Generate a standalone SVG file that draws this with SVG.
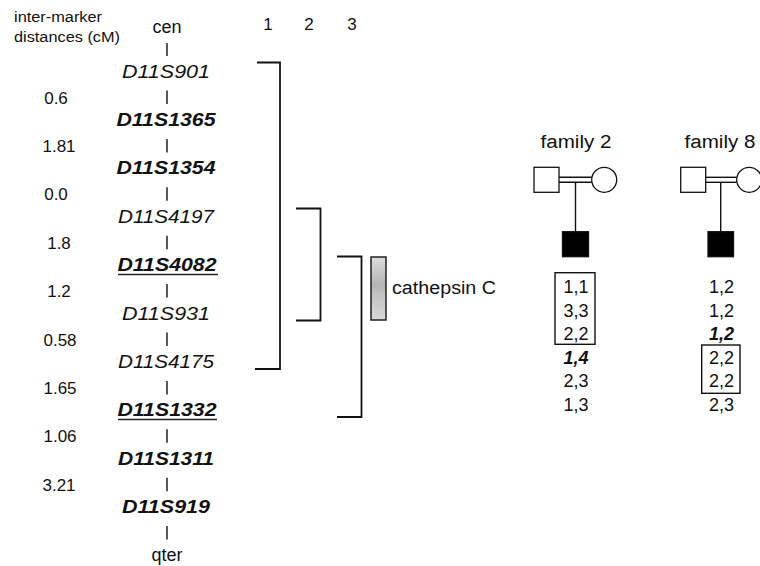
<svg xmlns="http://www.w3.org/2000/svg" width="760" height="566" viewBox="0 0 760 566">
  <style>
    text { font-family: "Liberation Sans", Arial, sans-serif; fill: #111; }
    .hdr { font-size: 15.5px; }
    .num { font-size: 17px; text-anchor: middle; }
    .mk { font-size: 19px; font-style: italic; text-anchor: middle; }
    .mkb { font-size: 19px; font-style: italic; font-weight: bold; text-anchor: middle; }
    .end { font-size: 18px; text-anchor: middle; }
    .al { font-size: 18px; text-anchor: middle; }
    .alb { font-size: 18px; text-anchor: middle; font-style: italic; font-weight: bold; }
    .tick { stroke: #111; stroke-width: 1.4; fill: none; }
    .br { stroke: #111; stroke-width: 1.8; fill: none; }
    .box { stroke: #111; stroke-width: 1.4; fill: none; }
    .ped { stroke: #111; stroke-width: 1.3; fill: #fff; }
    .aff { stroke: #111; stroke-width: 1.3; fill: #000; }
  </style>
  <defs>
    <linearGradient id="geneFill" x1="0" y1="0" x2="0" y2="1">
      <stop offset="0" stop-color="#dcdcdc"/>
      <stop offset="0.45" stop-color="#b4b4b4"/>
      <stop offset="0.6" stop-color="#c4c4c4"/>
      <stop offset="1" stop-color="#d8d8d8"/>
    </linearGradient>
  </defs>
  <rect width="760" height="566" fill="#fff"/>

  <!-- header -->
  <g id="header">
    <text class="hdr" x="14" y="22" textLength="88" lengthAdjust="spacingAndGlyphs">inter-marker</text>
    <text class="hdr" x="14" y="42" textLength="106" lengthAdjust="spacingAndGlyphs">distances (cM)</text>
    <text class="num" x="268" y="30">1</text>
    <text class="num" x="309" y="30">2</text>
    <text class="num" x="352" y="30">3</text>
  </g>

  <!-- marker map -->
  <g id="map-ticks">
    <line class="tick" x1="167" y1="43" x2="167" y2="56"/>
    <line class="tick" x1="167" y1="90.5" x2="167" y2="104"/>
    <line class="tick" x1="167" y1="138.9" x2="167" y2="152.4"/>
    <line class="tick" x1="167" y1="187.3" x2="167" y2="200.8"/>
    <line class="tick" x1="167" y1="235.7" x2="167" y2="249.2"/>
    <line class="tick" x1="167" y1="284.1" x2="167" y2="297.6"/>
    <line class="tick" x1="167" y1="332.5" x2="167" y2="346"/>
    <line class="tick" x1="167" y1="380.9" x2="167" y2="394.4"/>
    <line class="tick" x1="167" y1="429.3" x2="167" y2="442.8"/>
    <line class="tick" x1="167" y1="477.7" x2="167" y2="491.2"/>
    <line class="tick" x1="167" y1="526.1" x2="167" y2="539.6"/>
  </g>
  <g id="markers">
    <text class="end" x="167" y="33">cen</text>
    <text class="mk" x="166" y="77.5" textLength="88" lengthAdjust="spacingAndGlyphs">D11S901</text>
    <text class="mkb" x="166" y="125.9" textLength="99" lengthAdjust="spacingAndGlyphs">D11S1365</text>
    <text class="mkb" x="166" y="174.3" textLength="99" lengthAdjust="spacingAndGlyphs">D11S1354</text>
    <text class="mk" x="166" y="222.7" textLength="96" lengthAdjust="spacingAndGlyphs">D11S4197</text>
    <text class="mkb" x="167" y="271.1" textLength="99" lengthAdjust="spacingAndGlyphs">D11S4082</text>
    <line x1="118" y1="274.5" x2="218" y2="274.5" stroke="#222" stroke-width="1.6"/>
    <text class="mk" x="166" y="319.5" textLength="88" lengthAdjust="spacingAndGlyphs">D11S931</text>
    <text class="mk" x="166" y="367.9" textLength="96" lengthAdjust="spacingAndGlyphs">D11S4175</text>
    <text class="mkb" x="167" y="416.3" textLength="99" lengthAdjust="spacingAndGlyphs">D11S1332</text>
    <line x1="118" y1="419.5" x2="217" y2="419.5" stroke="#222" stroke-width="1.6"/>
    <text class="mkb" x="166" y="464.7" textLength="96" lengthAdjust="spacingAndGlyphs">D11S1311</text>
    <text class="mkb" x="166" y="513.1" textLength="88" lengthAdjust="spacingAndGlyphs">D11S919</text>
    <text class="end" x="167" y="561">qter</text>
  </g>
  <g id="distances">
    <text class="num" x="56" y="103.5">0.6</text>
    <text class="num" x="59" y="151.9">1.81</text>
    <text class="num" x="56" y="200.3">0.0</text>
    <text class="num" x="59" y="248.7">1.8</text>
    <text class="num" x="59" y="297.1">1.2</text>
    <text class="num" x="60" y="345.5">0.58</text>
    <text class="num" x="60" y="393.9">1.65</text>
    <text class="num" x="60" y="442.3">1.06</text>
    <text class="num" x="59" y="490.7">3.21</text>
  </g>

  <!-- linkage intervals -->
  <g id="connectors">
    <polyline class="br" points="257,62.5 280,62.5 280,369 255,369"/>
    <polyline class="br" points="296,208.5 320.5,208.5 320.5,320.5 296,320.5"/>
    <polyline class="br" points="337,256.5 361.5,256.5 361.5,417 337,417"/>
  </g>

  <g id="cathepsin-c">
    <rect x="371" y="257" width="15" height="63" fill="url(#geneFill)" stroke="#222" stroke-width="1.5"/>
    <text x="392" y="294" style="font-size:18px" textLength="104" lengthAdjust="spacingAndGlyphs">cathepsin C</text>
  </g>

  <!-- pedigrees -->
  <g id="family-2">
    <text x="576" y="148" style="font-size:18px;text-anchor:middle" textLength="71" lengthAdjust="spacingAndGlyphs">family 2</text>
    <rect class="ped" x="534" y="167.3" width="25" height="25"/>
    <circle class="ped" cx="604.2" cy="179.8" r="12.5"/>
    <line class="tick" x1="559" y1="177.3" x2="591.7" y2="177.3"/>
    <line class="tick" x1="559" y1="182.3" x2="591.7" y2="182.3"/>
    <line class="tick" x1="575.5" y1="182.3" x2="575.5" y2="231.7"/>
    <rect class="aff" x="562.5" y="231.7" width="26" height="25"/>
    <rect class="box" x="555" y="272.7" width="40" height="71.6"/>
    <text class="al" x="576" y="293">1,1</text>
    <text class="al" x="576" y="316.6">3,3</text>
    <text class="al" x="576" y="340.2">2,2</text>
    <text class="alb" x="576" y="363.8">1,4</text>
    <text class="al" x="576" y="387.4">2,3</text>
    <text class="al" x="576" y="411">1,3</text>
  </g>

  <g id="family-8">
    <text x="720" y="148" style="font-size:18px;text-anchor:middle" textLength="71" lengthAdjust="spacingAndGlyphs">family 8</text>
    <rect class="ped" x="680.7" y="167.3" width="25" height="25"/>
    <circle class="ped" cx="749.2" cy="179.8" r="12.5"/>
    <line class="tick" x1="705.7" y1="177.3" x2="736.7" y2="177.3"/>
    <line class="tick" x1="705.7" y1="182.3" x2="736.7" y2="182.3"/>
    <line class="tick" x1="720.7" y1="182.3" x2="720.7" y2="231.7"/>
    <rect class="aff" x="708" y="231.7" width="25.5" height="25"/>
    <rect class="box" x="701.7" y="345" width="38.3" height="48.3"/>
    <text class="al" x="721.5" y="293">1,2</text>
    <text class="al" x="721.5" y="316.6">1,2</text>
    <text class="alb" x="721.5" y="340.2">1,2</text>
    <text class="al" x="721.5" y="363.8">2,2</text>
    <text class="al" x="721.5" y="387.4">2,2</text>
    <text class="al" x="721.5" y="411">2,3</text>
  </g>
</svg>
